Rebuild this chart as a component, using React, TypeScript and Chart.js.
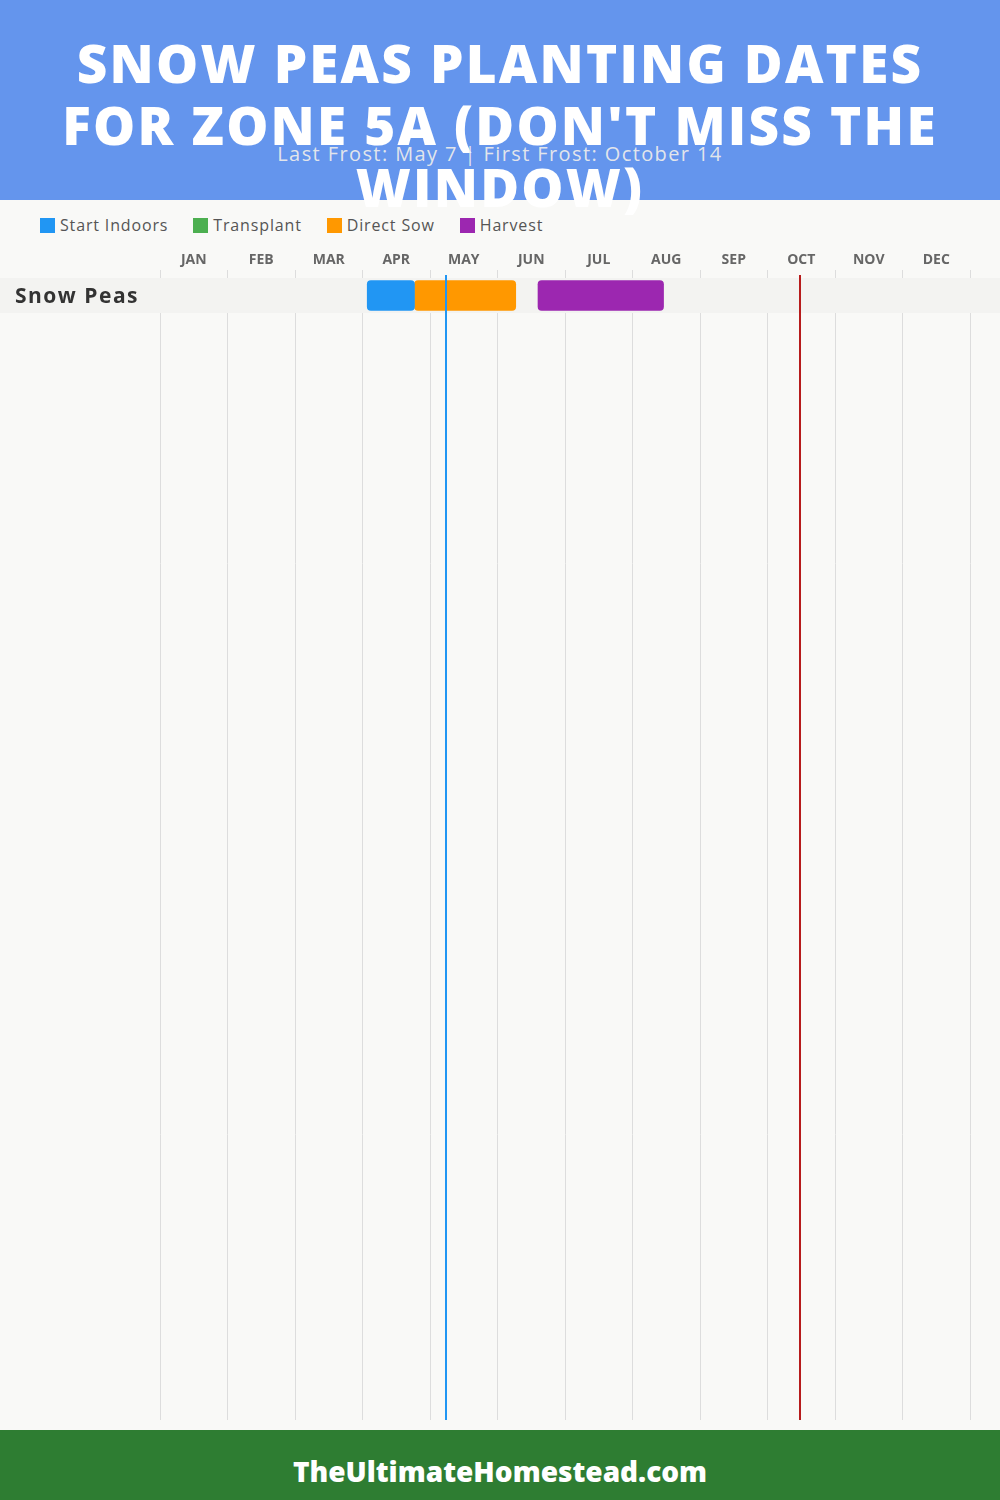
import React, { useEffect, useRef } from "react";
import { Chart, registerables } from "chart.js";

Chart.register(...registerables);

// ---- data ----
const titleLines = ["SNOW PEAS PLANTING DATES", "FOR ZONE 5A (DON'T MISS THE", "WINDOW)"];
const subtitle = "Last Frost: May 7 | First Frost: October 14";
const footerText = "TheUltimateHomestead.com";
const months = ["JAN", "FEB", "MAR", "APR", "MAY", "JUN", "JUL", "AUG", "SEP", "OCT", "NOV", "DEC"];
const crops = ["Snow Peas"];
const stageNames = ["Start Indoors", "Transplant", "Direct Sow", "Harvest"];
const stageColors = ["#2196F3", "#4CAF50", "#FF9800", "#9C27B0"];
// values in months from Jan 1 (0) to Dec 31 (12)
const startIndoors: ([number, number] | null)[] = [[3.07, 3.77]];
const transplant: ([number, number] | null)[] = [null];
const directSow: ([number, number] | null)[] = [[3.77, 5.27]];
const harvest: ([number, number] | null)[] = [[5.6, 7.46]];
const lastFrost = 4.23;
const firstFrost = 9.48;

const FONT = "'Open Sans', 'DejaVu Sans', sans-serif";

export default function App() {
  const canvasRef = useRef<HTMLCanvasElement | null>(null);

  useEffect(() => {
    const canvas = canvasRef.current;
    if (!canvas) return;
    const stageData = [startIndoors, transplant, directSow, harvest];
    const datasets = stageNames.map((name, si) => ({
      label: name,
      data: crops
        .map((_, ci) => (stageData[si][ci] ? { x: stageData[si][ci] as [number, number], y: ci + 0.5 } : null))
        .filter((d) => d !== null),
      backgroundColor: stageColors[si],
      borderWidth: 0,
      borderRadius: 4,
      borderSkipped: false,
      barThickness: 30,
      grouped: false,
    }));

    const rowBand = {
      id: "rowBand",
      beforeDatasetsDraw(chart: any) {
        const { ctx } = chart;
        const y = chart.scales.y;
        ctx.save();
        crops.forEach((name, i) => {
          const t = y.getPixelForValue(i);
          const b = y.getPixelForValue(i + 1);
          ctx.fillStyle = "#f3f3f1";
          ctx.fillRect(0, t, chart.width, b - t);
          ctx.fillStyle = "#333333";
          ctx.font = `bold 21px ${FONT}`;
          try {
            (ctx as any).letterSpacing = "1.5px";
          } catch (e) {}
          ctx.textAlign = "left";
          ctx.textBaseline = "middle";
          ctx.fillText(name, 15, (t + b) / 2 + 1.5);
        });
        ctx.restore();
      },
      afterDatasetsDraw(chart: any) {
        const { ctx, chartArea } = chart;
        const x = chart.scales.x;
        ctx.save();
        ctx.lineWidth = 2;
        [
          [lastFrost, "#2196F3"],
          [firstFrost, "#B71C1C"],
        ].forEach(([v, c]) => {
          const px = Math.round(x.getPixelForValue(v as number));
          ctx.strokeStyle = c as string;
          ctx.beginPath();
          ctx.moveTo(px, chartArea.top - 3);
          ctx.lineTo(px, chartArea.bottom);
          ctx.stroke();
        });
        ctx.restore();
      },
    };

    const chart = new Chart(canvas, {
      type: "bar",
      data: { datasets: datasets as any },
      options: {
        animation: false,
        responsive: true,
        maintainAspectRatio: false,
        indexAxis: "y",
        layout: { padding: { left: 15, right: 30, top: 0, bottom: 10 } },
        plugins: { legend: { display: false }, tooltip: { enabled: false } },
        scales: {
          x: {
            type: "linear",
            position: "top",
            min: 0,
            max: 12,
            offset: false,
            afterBuildTicks: (s: any) => {
              s.ticks = Array.from({ length: 13 }, (_, i) => ({ value: i }));
            },
            afterFit: (s: any) => {
              s.height = 38;
            },
            grid: { color: "#dddddd", lineWidth: 1, tickLength: 8, drawTicks: true, offset: false },
            border: { display: false },
            ticks: {
              labelOffset: 33.75,
              padding: 2,
              color: "#666666",
              font: { family: FONT, size: 14, weight: "bold" },
              maxRotation: 0,
              autoSkip: false,
              callback: (v: any) => months[v] ?? "",
            },
          },
          y: {
            type: "linear",
            reverse: true,
            min: 0,
            max: 1142 / 35,
            offset: false,
            afterFit: (s: any) => {
              s.width = 145;
            },
            grid: { display: false, offset: false },
            border: { display: false },
            ticks: { display: false },
          },
        },
      },
      plugins: [rowBand],
    });
    return () => chart.destroy();
  }, []);

  return (
    <div
      style={{
        position: "absolute",
        left: 0,
        top: 0,
        width: 1000,
        height: 1500,
        background: "#f9f9f7",
        overflow: "hidden",
        fontFamily: FONT,
      }}
    >
      <div style={{ position: "absolute", left: 0, top: 0, width: 1000, height: 200, background: "#6495ED" }} />
      <div
        style={{
          position: "absolute",
          left: 0,
          top: 32,
          width: 1000,
          textAlign: "center",
          color: "#ffffff",
          fontWeight: 800,
          fontSize: 53,
          letterSpacing: "2.2px",
          lineHeight: "62px",
        }}
      >
        {titleLines.map((l, i) => (
          <div key={i}>{l}</div>
        ))}
      </div>
      <div
        style={{
          position: "absolute",
          left: 0,
          top: 141,
          width: 1000,
          textAlign: "center",
          color: "rgba(235,235,235,0.95)",
          fontSize: 20,
          letterSpacing: "1.4px",
          lineHeight: "26px",
        }}
      >
        {subtitle}
      </div>
      <div
        style={{
          position: "absolute",
          left: 40,
          top: 214,
          display: "flex",
          alignItems: "center",
          fontSize: 16,
          letterSpacing: "0.85px",
          color: "#555555",
          lineHeight: "22px",
        }}
      >
        {stageNames.map((n, i) => (
          <div key={n} style={{ display: "flex", alignItems: "center", marginRight: 25 }}>
            <span style={{ width: 15, height: 15, background: stageColors[i], marginRight: 5, display: "inline-block" }} />
            <span>{n}</span>
          </div>
        ))}
      </div>
      <div style={{ position: "absolute", left: 0, top: 240, width: 1000, height: 1190 }}>
        <canvas ref={canvasRef} />
      </div>
      <div
        style={{
          position: "absolute",
          left: 0,
          top: 1430,
          width: 1000,
          height: 70,
          background: "#2E7D32",
          color: "#ffffff",
          fontWeight: 800,
          fontSize: 28,
          textAlign: "center",
          lineHeight: "82px",
        }}
      >
        {footerText}
      </div>
    </div>
  );
}
